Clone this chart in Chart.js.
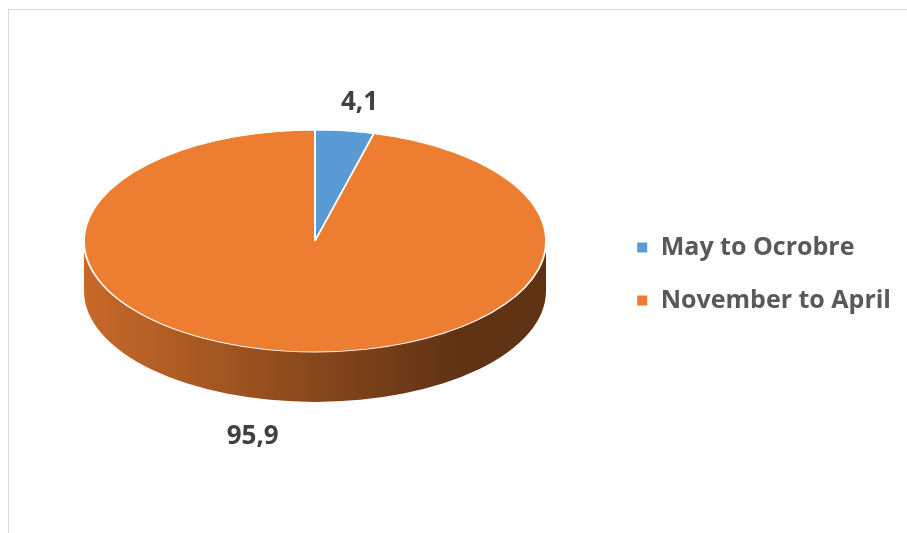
<!DOCTYPE html>
<html>
<head>
<meta charset="utf-8">
<script src="https://cdn.jsdelivr.net/npm/chart.js@4/dist/chart.umd.min.js"></script>
<style>
  html, body { margin: 0; padding: 0; background: #fff; overflow: hidden; }
  #wrap { position: relative; width: 907px; height: 533px; }
  #frame { position: absolute; left: 8px; top: 9px; width: 920px; height: 560px; border: 1px solid #d9d9d9; box-sizing: border-box; }
  canvas { position: absolute; left: 0; top: 0; }
</style>
</head>
<body>
<div id="wrap">
  <div id="frame"></div>
  <canvas id="chart" width="907" height="533"></canvas>
</div>
<script>
// Share of the year
const labels = ['May to Ocrobre', 'November to April'];
const values = [4.1, 95.9];
const colors = ['#5b9bd5', '#ed7d31'];

// Ellipse the flat pie is squashed into (3D look)
const tilt = { cx: 315, cy: 241, rx: 231, ry: 111, depth: 50 };

function shade(hex, f) {
    const n = parseInt(hex.slice(1), 16);
    const r = Math.round(((n >> 16) & 255) * f);
    const g = Math.round(((n >> 8) & 255) * f);
    const b = Math.round((n & 255) * f);
    return 'rgb(' + r + ',' + g + ',' + b + ')';
}

const pie3d = {
    id: 'pie3d',
    beforeDatasetsDraw(chart) {
        const ctx = chart.ctx;
        const arcs = chart.getDatasetMeta(0).data;
        const { cx, cy, rx, ry, depth } = tilt;

        // side wall, only the part facing the viewer (lower half)
        arcs.forEach((arc, i) => {
            const segs = [];
            const a0 = Math.max(arc.startAngle, 0);
            const a1 = Math.min(arc.endAngle, Math.PI);
            if (a1 > a0) segs.push([a0, a1]);
            // angles beyond 2PI wrap into the front half as well
            if (arc.endAngle > 2 * Math.PI) segs.push([Math.max(arc.startAngle, 2 * Math.PI), Math.min(arc.endAngle, 3 * Math.PI)]);
            segs.forEach(([s, e]) => {
                if (e <= s) return;
                const g = ctx.createLinearGradient(cx - rx, 0, cx + rx, 0);
                g.addColorStop(0, shade(colors[i], 0.84));
                g.addColorStop(0.45, shade(colors[i], 0.6));
                g.addColorStop(0.8, shade(colors[i], 0.41));
                g.addColorStop(1, shade(colors[i], 0.4));
                ctx.save();
                ctx.beginPath();
                ctx.ellipse(cx, cy, rx, ry, 0, s, e, false);
                ctx.ellipse(cx, cy + depth, rx, ry, 0, e, s, true);
                ctx.closePath();
                ctx.fillStyle = g;
                ctx.fill();
                ctx.restore();
            });
        });

        // squash the top face
        const x = arcs[0].x, y = arcs[0].y, R = arcs[0].outerRadius;
        ctx.save();
        ctx.translate(cx, cy);
        ctx.scale(rx / R, ry / R);
        ctx.translate(-x, -y);
    },
    afterDatasetsDraw(chart) {
        const ctx = chart.ctx;
        ctx.restore();

        // value labels outside each slice
        const arcs = chart.getDatasetMeta(0).data;
        const { cx, cy, rx, ry, depth } = tilt;
        ctx.save();
        ctx.font = 'bold 26px "Open Sans", sans-serif';
        ctx.fillStyle = '#404040';
        ctx.textAlign = 'center';
        ctx.textBaseline = 'middle';
        arcs.forEach((arc, i) => {
            const mid = (arc.startAngle + arc.endAngle) / 2;
            const sx = Math.cos(mid), sy = Math.sin(mid);
            const front = sy > 0;
            const lx = cx + rx * (front ? 2.1 : 1.5) * sx;
            const ly = cy + ry * (front ? 1.32 : 1.26) * sy + (front ? depth : 0);
            ctx.fillText(String(values[i]).replace('.', ','), lx, ly);
        });
        ctx.restore();
    }
};

new Chart(document.getElementById('chart'), {
    type: 'pie',
    data: {
        labels: labels,
        datasets: [{
            data: values,
            backgroundColor: colors,
            borderColor: '#ffffff',
            borderWidth: 2
        }]
    },
    options: {
        responsive: false,
        animation: false,
        events: [],
        layout: { padding: { top: 30, bottom: 15, right: 6, left: 20 } },
        plugins: {
            tooltip: { enabled: false },
            legend: {
                position: 'right',
                labels: {
                    boxWidth: 12,
                    boxHeight: 12,
                    padding: 28,
                    color: '#595959',
                    font: { family: '"Open Sans", sans-serif', size: 25, weight: 'bold' }
                }
            }
        }
    },
    plugins: [pie3d]
});
</script>
</body>
</html>
